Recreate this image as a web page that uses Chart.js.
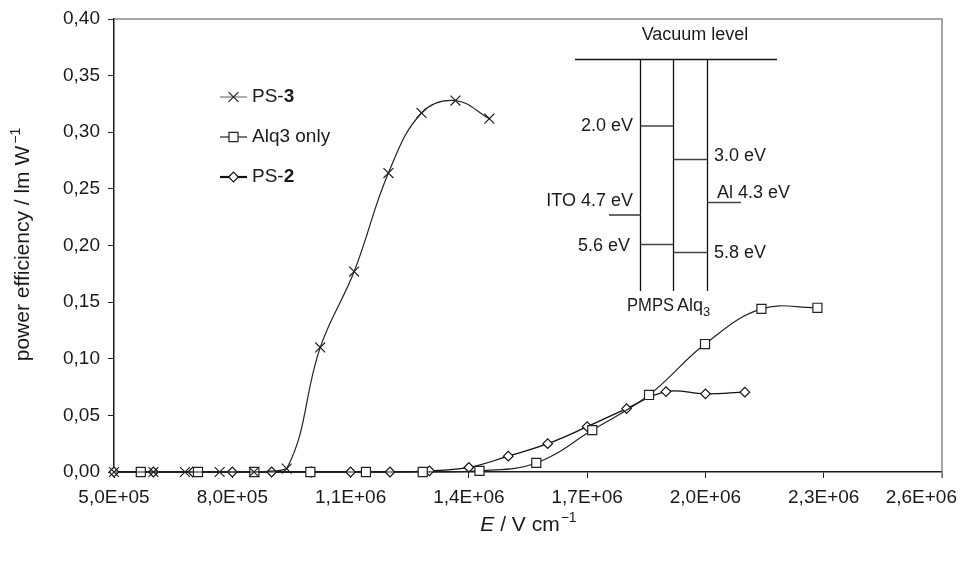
<!DOCTYPE html>
<html>
<head>
<meta charset="utf-8">
<script src="https://cdn.jsdelivr.net/npm/chart.js@4"></script>
<style>
  html, body { margin: 0; padding: 0; background: #fff; }
  #wrap { width: 965px; height: 562px; }
</style>
</head>
<body>
<div id="wrap"><canvas id="chart" width="965" height="562"></canvas></div>
<script>
// field strength E (V/cm) and power efficiency (lm/W)
const ps3Field = [500000, 600000, 680000, 768000, 855000, 938000, 1023000, 1109000, 1196000, 1280000, 1366000, 1452000];
const ps3Eff   = [0, 0, 0, 0, 0, 0.003, 0.110, 0.177, 0.264, 0.317, 0.328, 0.312];

const alqField = [568000, 713000, 856000, 998000, 1139000, 1283000, 1427000, 1571000, 1713000, 1857000, 1999000, 2142000, 2284000];
const alqEff   = [0, 0, 0, 0, 0, 0, 0.001, 0.008, 0.037, 0.068, 0.113, 0.144, 0.145];

const ps2Field = [500000, 600000, 700000, 800000, 900000, 1000000, 1100000, 1200000, 1300000, 1400000, 1500000, 1600000, 1700000, 1800000, 1900000, 2000000, 2100000];
const ps2Eff   = [0, 0, 0, 0, 0, 0, 0, 0, 0.001, 0.004, 0.014, 0.025, 0.040, 0.056, 0.071, 0.069, 0.0705];

// axis ranges / ticks
const xMin = 500000, xMax = 2600000, xStep = 300000;
const yMin = 0, yMax = 0.4, yStep = 0.05;

// energy level diagram labels
const vacuumLabel = 'Vacuum level';
const levelLabels = ['2.0 eV', '3.0 eV', 'ITO 4.7 eV', 'Al 4.3 eV', '5.6 eV', '5.8 eV'];

const FONT = '"Liberation Sans", Arial, Helvetica, sans-serif';
const INK = '#1a1a1a';

function pts(xs, ys) {
  return xs.map((x, i) => ({ x: x, y: ys[i] }));
}

// 5,0E+05 style labels
function fmtField(v) {
  const parts = v.toExponential(1).split('e');
  const n = parseInt(parts[1], 10);
  return parts[0].replace('.', ',') + 'E' + (n < 0 ? '-' : '+') + String(Math.abs(n)).padStart(2, '0');
}

function line(ctx, x1, y1, x2, y2) {
  ctx.beginPath();
  ctx.moveTo(x1, y1);
  ctx.lineTo(x2, y2);
  ctx.stroke();
}

const series = [
  { label: 'PS-', bold: '3', data: pts(ps3Field, ps3Eff), style: 'crossRot', radius: 7, color: '#222', width: 1.2, legendColor: '#777', legendWidth: 1.2 },
  { label: 'Alq3 only', bold: '', data: pts(alqField, alqEff), style: 'rect', radius: 6.4, color: '#222', width: 1.2, legendColor: '#222', legendWidth: 1.2 },
  { label: 'PS-', bold: '2', data: pts(ps2Field, ps2Eff), style: 'rectRot', radius: 4.8, color: '#111', width: 1.3, legendColor: '#111', legendWidth: 2.2 }
];

const decor = {
  id: 'decor',
  afterDraw(chart) {
    const ctx = chart.ctx;
    const a = chart.chartArea;
    const xs = chart.scales.x;
    ctx.save();

    // grey frame top and right
    ctx.strokeStyle = '#8a8a8a';
    ctx.lineWidth = 1.5;
    ctx.beginPath();
    ctx.moveTo(a.left, a.top);
    ctx.lineTo(a.right, a.top);
    ctx.lineTo(a.right, a.bottom + 6);
    ctx.stroke();

    // x tick labels, last one pushed inside the canvas
    ctx.fillStyle = INK;
    ctx.font = '19px ' + FONT;
    ctx.textBaseline = 'middle';
    ctx.textAlign = 'left';
    xs.ticks.forEach(t => {
      const px = xs.getPixelForValue(t.value);
      const txt = fmtField(t.value);
      const w = ctx.measureText(txt).width;
      let left = px - w / 2;
      if (left + w > 957) left = 957 - w;
      ctx.fillText(txt, left, 498);
    });

    // x title: E / V cm-1
    const big = '21px ' + FONT, sup = '14px ' + FONT;
    ctx.font = 'italic ' + big;
    const wE = ctx.measureText('E').width;
    ctx.font = big;
    const wMid = ctx.measureText(' / V cm').width;
    ctx.font = sup;
    const wSup = ctx.measureText('\u22121').width;
    let x0 = (a.left + a.right) / 2 - (wE + wMid + wSup) / 2;
    ctx.textBaseline = 'alphabetic';
    ctx.font = 'italic ' + big;
    ctx.fillText('E', x0, 531);
    ctx.font = big;
    ctx.fillText(' / V cm', x0 + wE, 531);
    ctx.font = sup;
    ctx.fillText('\u22121', x0 + wE + wMid + 1, 522);

    // y title: power efficiency / lm W-1
    ctx.save();
    ctx.translate(29, (a.top + a.bottom) / 2);
    ctx.rotate(-Math.PI / 2);
    ctx.font = big;
    const yt = 'power efficiency / lm W';
    const wy = ctx.measureText(yt).width;
    ctx.font = sup;
    const wys = ctx.measureText('\u22121').width;
    const y0 = -(wy + wys) / 2;
    ctx.font = big;
    ctx.fillText(yt, y0, 0);
    ctx.font = sup;
    ctx.fillText('\u22121', y0 + wy + 2, -9);
    ctx.restore();

    // legend
    const legendY = [97, 137, 177];
    series.forEach((s, i) => {
      const y = legendY[i];
      ctx.strokeStyle = s.legendColor;
      ctx.lineWidth = s.legendWidth;
      line(ctx, 220, y, 247, y);
      ctx.fillStyle = '#fff';
      ctx.strokeStyle = s.color;
      ctx.lineWidth = 1.2;
      Chart.helpers.drawPoint(ctx, { pointStyle: s.style, radius: s.radius, borderWidth: 1.2, rotation: 0 }, 233.5, y);
      ctx.fillStyle = INK;
      ctx.textBaseline = 'middle';
      ctx.font = '19px ' + FONT;
      ctx.fillText(s.label, 252, y);
      if (s.bold) {
        const w = ctx.measureText(s.label).width;
        ctx.font = 'bold 19px ' + FONT;
        ctx.fillText(s.bold, 252 + w, y);
      }
    });

    // energy level diagram
    ctx.strokeStyle = '#111';
    ctx.lineWidth = 1.3;
    line(ctx, 575, 59.5, 777, 59.5);
    [640.5, 673.5, 707.5].forEach(x => line(ctx, x, 59.5, x, 291));
    ctx.lineWidth = 1.6;
    ctx.strokeStyle = '#444';
    line(ctx, 640.5, 126, 673.5, 126);
    line(ctx, 673.5, 159.5, 707.5, 159.5);
    line(ctx, 609, 215, 640.5, 215);
    line(ctx, 707.5, 202.5, 741, 202.5);
    line(ctx, 640.5, 244.5, 673.5, 244.5);
    line(ctx, 673.5, 252.5, 707.5, 252.5);

    ctx.fillStyle = INK;
    ctx.font = '18px ' + FONT;
    ctx.textBaseline = 'middle';
    ctx.textAlign = 'center';
    ctx.fillText(vacuumLabel, 695, 35);
    ctx.textAlign = 'right';
    ctx.fillText(levelLabels[0], 633, 126);
    ctx.fillText(levelLabels[2], 633, 201);
    ctx.fillText(levelLabels[4], 630, 246);
    ctx.textAlign = 'left';
    ctx.fillText(levelLabels[1], 714, 156);
    ctx.fillText(levelLabels[3], 717, 193);
    ctx.fillText(levelLabels[5], 714, 253);

    // layer names
    ctx.fillText('PMPS', 627, 306, 47);
    const wAlq = ctx.measureText('Alq').width;
    ctx.fillText('Alq', 677, 306);
    ctx.font = '13px ' + FONT;
    ctx.fillText('3', 677 + wAlq, 312);

    ctx.restore();
  }
};

function noPad(s) {
  s.paddingLeft = 0; s.paddingRight = 0; s.paddingTop = 0; s.paddingBottom = 0;
}

new Chart(document.getElementById('chart'), {
  type: 'line',
  data: {
    datasets: series.map(s => ({
      label: s.label + s.bold,
      data: s.data,
      borderColor: s.color,
      borderWidth: s.width,
      tension: 0.4,
      fill: false,
      pointStyle: s.style,
      pointRadius: s.radius,
      pointBorderWidth: 1.2,
      pointBorderColor: s.color,
      pointBackgroundColor: '#fff',
      clip: false
    }))
  },
  options: {
    responsive: false,
    animation: false,
    events: [],
    layout: { padding: { left: 0, top: 19, right: 23, bottom: 0 } },
    plugins: { legend: { display: false }, tooltip: { enabled: false } },
    scales: {
      x: {
        type: 'linear',
        min: xMin, max: xMax,
        afterFit(s) { s.height = 90; noPad(s); },
        ticks: { stepSize: xStep, color: 'rgba(0,0,0,0)', font: { family: FONT, size: 19 }, maxRotation: 0, autoSkip: false, callback: v => fmtField(v) },
        grid: { display: true, drawOnChartArea: false, drawTicks: true, tickLength: 6, color: '#222', lineWidth: 1 },
        border: { display: true, color: '#1a1a1a', width: 1.5 }
      },
      y: {
        type: 'linear',
        min: yMin, max: yMax,
        afterFit(s) { s.width = 114; noPad(s); },
        ticks: { stepSize: yStep, color: INK, padding: 8, font: { family: FONT, size: 19 }, callback: v => v.toFixed(2).replace('.', ',') },
        grid: { display: true, drawOnChartArea: false, drawTicks: true, tickLength: 6, color: '#222', lineWidth: 1 },
        border: { display: true, color: '#1a1a1a', width: 1.5 }
      }
    }
  },
  plugins: [decor]
});
</script>
</body>
</html>
